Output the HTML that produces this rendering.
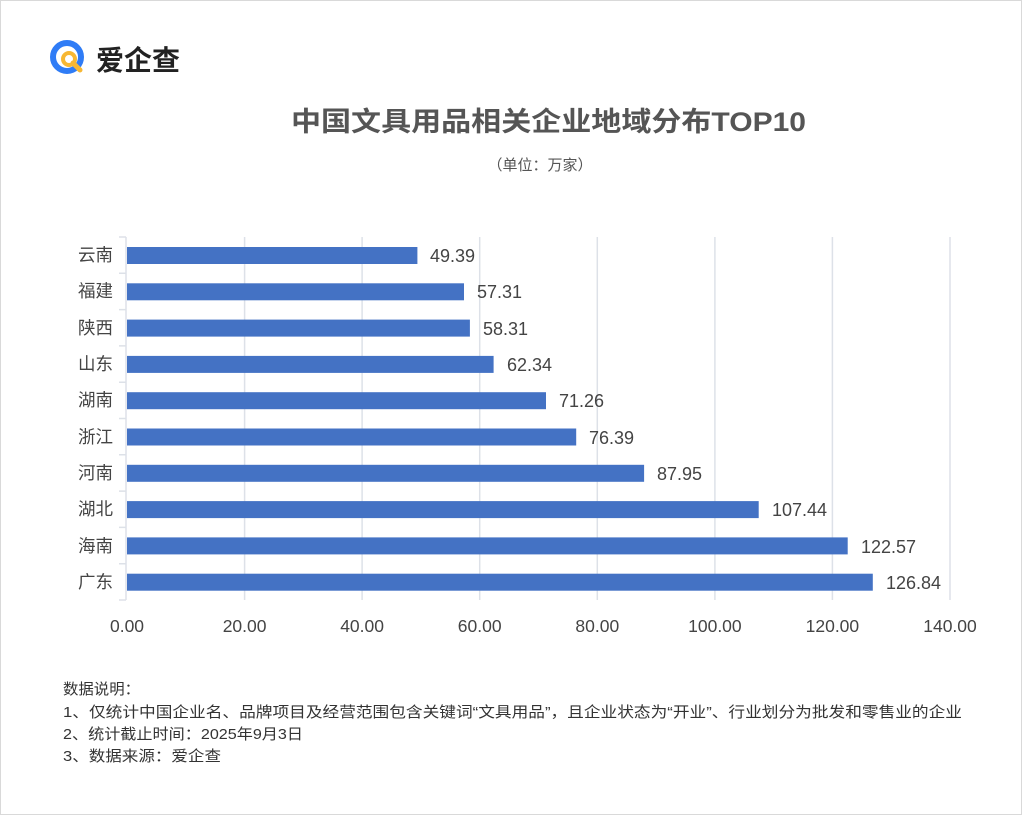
<!DOCTYPE html>
<html><head><meta charset="utf-8"><style>
body{margin:0;background:#fff;}
svg{display:block;font-family:"Liberation Sans","Noto Sans CJK SC",sans-serif;}
</style></head><body>
<svg width="1022" height="815" viewBox="0 0 1022 815">
<rect x="0.5" y="0.5" width="1021" height="814" fill="#fff" stroke="#d9d9d9"/>
<!-- logo -->
<circle cx="67" cy="57" r="14" fill="none" stroke="#2f7cf6" stroke-width="6"/>
<circle cx="69" cy="59" r="6" fill="none" stroke="#f7b733" stroke-width="4"/>
<line x1="73" y1="63" x2="80" y2="70" stroke="#f7b733" stroke-width="5" stroke-linecap="round"/>
<text x="96" y="70" font-size="28" font-weight="bold" fill="#222">爱企查</text>
<text x="291" y="131" font-size="27" font-weight="bold" fill="#555" textLength="515" lengthAdjust="spacingAndGlyphs">中国文具用品相关企业地域分布TOP10</text>
<text x="540" y="170" font-size="15" fill="#555" text-anchor="middle">（单位：万家）</text>
<g stroke="#dde1e8" stroke-width="1.5">
<line x1="244.6" y1="237" x2="244.6" y2="600"/><line x1="362.1" y1="237" x2="362.1" y2="600"/>
<line x1="479.7" y1="237" x2="479.7" y2="600"/><line x1="597.3" y1="237" x2="597.3" y2="600"/>
<line x1="714.9" y1="237" x2="714.9" y2="600"/><line x1="832.4" y1="237" x2="832.4" y2="600"/>
<line x1="950" y1="237" x2="950" y2="600"/>
<line x1="126" y1="237" x2="126" y2="600"/>
<path d="M119 237H126M119 273.3H126M119 309.6H126M119 345.9H126M119 382.2H126M119 418.5H126M119 454.8H126M119 491.1H126M119 527.4H126M119 563.7H126M119 600H126"/>
</g>
<g fill="#4472c4">
<rect x="127" y="247" width="290.4" height="17"/>
<rect x="127" y="283.3" width="337" height="17"/>
<rect x="127" y="319.6" width="342.9" height="17"/>
<rect x="127" y="355.9" width="366.6" height="17"/>
<rect x="127" y="392.2" width="419" height="17"/>
<rect x="127" y="428.5" width="449.2" height="17"/>
<rect x="127" y="464.8" width="517.1" height="17"/>
<rect x="127" y="501.1" width="631.7" height="17"/>
<rect x="127" y="537.4" width="720.7" height="17"/>
<rect x="127" y="573.7" width="745.8" height="17"/>
</g>
<g font-size="18" fill="#444">
<text x="430" y="262">49.39</text><text x="477" y="298">57.31</text>
<text x="483" y="335">58.31</text><text x="507" y="371">62.34</text>
<text x="559" y="407">71.26</text><text x="589" y="444">76.39</text>
<text x="657" y="480">87.95</text><text x="772" y="516">107.44</text>
<text x="861" y="553">122.57</text><text x="886" y="589">126.84</text>
</g>
<g font-size="17.5" fill="#444" text-anchor="end">
<text x="113" y="261">云南</text><text x="113" y="297">福建</text>
<text x="113" y="334">陕西</text><text x="113" y="370">山东</text>
<text x="113" y="406">湖南</text><text x="113" y="443">浙江</text>
<text x="113" y="479">河南</text><text x="113" y="515">湖北</text>
<text x="113" y="552">海南</text><text x="113" y="588">广东</text>
</g>
<g font-size="17.5" fill="#444" text-anchor="middle">
<text x="127" y="632">0.00</text><text x="244.6" y="632">20.00</text>
<text x="362.1" y="632">40.00</text><text x="479.7" y="632">60.00</text>
<text x="597.3" y="632">80.00</text><text x="714.9" y="632">100.00</text>
<text x="832.4" y="632">120.00</text><text x="950" y="632">140.00</text>
</g>
<g font-size="15" fill="#333">
<text x="63" y="694" textLength="77" lengthAdjust="spacingAndGlyphs">数据说明：</text>
<text x="63" y="717" textLength="899" lengthAdjust="spacingAndGlyphs">1、仅统计中国企业名、品牌项目及经营范围包含关键词“文具用品”，且企业状态为“开业”、行业划分为批发和零售业的企业</text>
<text x="63" y="739" textLength="240" lengthAdjust="spacingAndGlyphs">2、统计截止时间：2025年9月3日</text>
<text x="63" y="761" textLength="158" lengthAdjust="spacingAndGlyphs">3、数据来源：爱企查</text>
</g>
</svg>
</body></html>
